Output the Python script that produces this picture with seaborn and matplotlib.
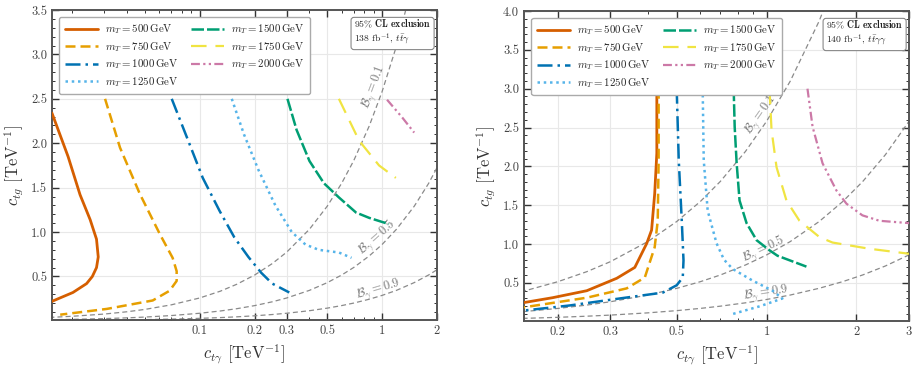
import matplotlib.pyplot as plt
import matplotlib.ticker as mticker
import numpy as np
import pandas as pd
import seaborn as sns

# top-partner masses and their styles
masses = [500, 750, 1000, 1250, 1500, 1750, 2000]
colors = ["#D55E00", "#E69F00", "#0072B2", "#56B4E9", "#009E73", "#F0E442", "#CC79A7"]
styles = ["-", (0, (4, 2)), (0, (6, 2, 1, 2)), (0, (1, 1.5)),
          (0, (5, 1.2)), (0, (7, 4)), (0, (4, 1.5, 1, 1.5, 1, 1.5))]
widths = [2.0, 1.8, 1.8, 1.8, 1.8, 1.6, 1.6]

# left panel: 138 fb^-1, tt+gamma  (c_tgamma, c_tg)
ttg_m500 = [(0.0155, 2.34), (0.0190, 1.85), (0.0221, 1.42), (0.0251, 1.14), (0.0272, 0.92),
            (0.0278, 0.72), (0.0272, 0.60), (0.0258, 0.50), (0.0240, 0.42), (0.0202, 0.32),
            (0.0155, 0.22)]
ttg_m750 = [(0.0303, 2.50), (0.0366, 1.95), (0.0470, 1.43), (0.0604, 0.98), (0.0711, 0.71),
            (0.0748, 0.56), (0.0748, 0.45), (0.0685, 0.34), (0.0553, 0.23), (0.0310, 0.135),
            (0.0172, 0.07)]
ttg_m1000 = [(0.0703, 2.50), (0.085, 2.07), (0.104, 1.61), (0.1285, 1.24), (0.155, 0.94),
             (0.185, 0.72), (0.218, 0.54), (0.25, 0.42), (0.31, 0.32)]
ttg_m1250 = [(0.150, 2.50), (0.175, 2.10), (0.21, 1.70), (0.26, 1.30), (0.32, 1.00),
             (0.38, 0.86), (0.45, 0.80), (0.58, 0.77), (0.68, 0.71)]
ttg_m1500 = [(0.303, 2.50), (0.34, 2.15), (0.40, 1.80), (0.48, 1.55), (0.58, 1.39),
             (0.72, 1.22), (0.85, 1.16), (1.09, 1.09)]
ttg_m1750 = [(0.58, 2.50), (0.748, 2.03), (0.963, 1.75), (1.19, 1.61)]
ttg_m2000 = [(1.065, 2.49), (1.29, 2.29), (1.50, 2.12)]

# right panel: 140 fb^-1, tt+gamma gamma
ttaa_m500 = [(0.429, 3.00), (0.429, 2.17), (0.422, 1.65), (0.412, 1.18), (0.397, 1.01),
             (0.362, 0.70), (0.315, 0.56), (0.250, 0.40), (0.192, 0.31), (0.150, 0.24)]
ttaa_m750 = [(0.435, 3.00), (0.435, 2.08), (0.432, 1.30), (0.422, 0.96), (0.391, 0.57),
             (0.340, 0.43), (0.250, 0.31), (0.150, 0.18)]
ttaa_m1000 = [(0.500, 3.00), (0.508, 2.08), (0.520, 1.30), (0.527, 0.79), (0.524, 0.57),
              (0.500, 0.47), (0.449, 0.375), (0.322, 0.30), (0.219, 0.21), (0.150, 0.14)]
ttaa_m1250 = [(0.611, 3.00), (0.616, 2.08), (0.635, 1.43), (0.680, 1.01), (0.72, 0.80),
              (0.77, 0.68), (0.898, 0.53), (1.047, 0.40), (1.13, 0.30), (0.95, 0.20),
              (0.77, 0.10)]
ttaa_m1500 = [(0.776, 3.00), (0.782, 2.51), (0.794, 2.04), (0.812, 1.56), (0.857, 1.27),
              (0.926, 1.05), (1.023, 0.92), (1.088, 0.85), (1.36, 0.71)]
ttaa_m1750 = [(1.023, 3.00), (1.039, 2.47), (1.080, 1.99), (1.166, 1.56), (1.289, 1.30),
              (1.504, 1.09), (1.663, 1.02), (2.21, 0.94), (2.94, 0.88), (3.0, 0.875)]
ttaa_m2000 = [(1.371, 3.00), (1.426, 2.51), (1.54, 2.04), (1.714, 1.69), (1.852, 1.52),
              (2.094, 1.37), (2.388, 1.30), (3.0, 1.27)]

# branching-ratio contours B_gamma = 0.1, 0.5, 0.9
b_x = [0.015, 0.02, 0.03, 0.04, 0.05, 0.07, 0.1, 0.13, 0.16, 0.2, 0.25, 0.3, 0.4, 0.5,
       0.6, 0.7, 0.85, 1.0, 1.2, 1.5, 1.8, 2.1, 2.5, 3.0]
b01_y = [0.039, 0.052, 0.077, 0.103, 0.129, 0.181, 0.258, 0.335, 0.413, 0.516, 0.645,
         0.774, 1.032, 1.29, 1.548, 1.806, 2.193, 2.58, 3.096, 3.87, 4.644, 5.418, 6.45, 7.74]
b05_y = [0.0129, 0.0172, 0.0258, 0.0344, 0.043, 0.0602, 0.086, 0.1118, 0.1376, 0.172,
         0.215, 0.258, 0.344, 0.43, 0.516, 0.602, 0.731, 0.86, 1.032, 1.29, 1.548, 1.806,
         2.15, 2.58]
b09_y = [0.0043, 0.0057, 0.0086, 0.0115, 0.0144, 0.0201, 0.0287, 0.0373, 0.0459, 0.0574,
         0.0718, 0.0861, 0.1148, 0.1435, 0.1722, 0.2009, 0.244, 0.287, 0.344, 0.431, 0.517,
         0.603, 0.718, 0.861]
b_values = ["0.1", "0.5", "0.9"]

left_curves = [ttg_m500, ttg_m750, ttg_m1000, ttg_m1250, ttg_m1500, ttg_m1750, ttg_m2000]
right_curves = [ttaa_m500, ttaa_m750, ttaa_m1000, ttaa_m1250, ttaa_m1500, ttaa_m1750, ttaa_m2000]

sns.set_theme(style="ticks")
plt.rcParams["font.family"] = ["cmr10", "DejaVu Serif"]
plt.rcParams["mathtext.fontset"] = "cm"
plt.rcParams["axes.formatter.use_mathtext"] = True

fig = plt.figure(figsize=(9.18, 3.68), dpi=100)
ax_l = fig.add_axes([0.0566, 0.1304, 0.4194, 0.8424])
ax_r = fig.add_axes([0.5708, 0.1277, 0.4194, 0.8424])


def line_angle(ax, xs, ys, x0):
    pts = ax.transData.transform(np.column_stack([xs, ys]))
    i = int(np.searchsorted(xs, x0))
    dx, dy = pts[i] - pts[i - 1]
    return np.degrees(np.arctan2(dy, dx))


def draw_panel(ax, curves, xlim, ylim, xmajor, lumi, label_pos):
    ax.set_xscale("log")
    ax.set_xlim(*xlim)
    ax.set_ylim(*ylim)

    # branching ratio contours
    for by in [b01_y, b05_y, b09_y]:
        bdf = pd.DataFrame({"x": b_x, "y": by})
        sns.lineplot(data=bdf, x="x", y="y", ax=ax, sort=False, estimator=None,
                     color="#8a8a8a", lw=0.9, linestyle=(0, (4, 2.5)), zorder=2)

    for m, pts, c, ls, lw in zip(masses, curves, colors, styles, widths):
        df = pd.DataFrame(pts, columns=["x", "y"])
        sns.lineplot(data=df, x="x", y="y", ax=ax, sort=False, estimator=None,
                     color=c, lw=lw, linestyle=ls, zorder=3,
                     label=rf"$m_T = {m}\,\mathrm{{GeV}}$")

    ax.xaxis.set_major_locator(mticker.FixedLocator(xmajor))
    ax.xaxis.set_major_formatter(mticker.FixedFormatter([f"{v:g}" for v in xmajor]))
    ax.xaxis.set_minor_locator(mticker.LogLocator(base=10, subs=np.arange(2, 10)))
    ax.xaxis.set_minor_formatter(mticker.NullFormatter())
    ax.yaxis.set_major_locator(mticker.MultipleLocator(0.5))
    ax.yaxis.set_major_formatter(mticker.FormatStrFormatter("%.1f"))
    ax.yaxis.set_minor_locator(mticker.MultipleLocator(0.1))

    ax.grid(True, which="major", color="#e8e8e8", lw=0.8, zorder=0)
    ax.tick_params(which="both", direction="in", top=True, right=True,
                   colors="#333333", labelcolor="#444444", labelsize=9)
    ax.tick_params(which="major", length=5, width=1.0)
    ax.tick_params(which="minor", length=2.5, width=0.7)
    for s in ax.spines.values():
        s.set_color("#555555")
        s.set_linewidth(1.4)

    ax.set_xlabel(r"$c_{t\gamma}$ [TeV$^{-1}$]", fontsize=12, color="#333333")
    ax.set_ylabel(r"$c_{tg}$ [TeV$^{-1}$]", fontsize=12, color="#333333")

    leg = ax.legend(loc="upper left", ncol=2, fontsize=7.8, handlelength=3.05,
                    handletextpad=0.65, columnspacing=1.2, labelspacing=0.34,
                    borderpad=0.5, fancybox=True, framealpha=1, edgecolor="#aaaaaa",
                    bbox_to_anchor=(0.005, 0.995))
    leg.set_zorder(5)

    ax.text(0.985, 0.975, r"$\mathbf{95\%\ CL\ exclusion}$" + "\n" + lumi,
            transform=ax.transAxes, ha="right", va="top", fontsize=7,
            multialignment="left", color="#222222", zorder=6, linespacing=1.15,
            bbox=dict(boxstyle="round,pad=0.3", fc="white", ec="#888888", lw=0.8))

    for by, bv, (lx, ly) in zip([b01_y, b05_y, b09_y], b_values, label_pos):
        ang = line_angle(ax, b_x, by, lx)
        ax.text(lx, ly, rf"$\mathcal{{B}}_\gamma = {bv}$", fontsize=9, color="#777777",
                rotation=ang, rotation_mode="anchor", ha="center", va="center", zorder=2)


draw_panel(ax_l, left_curves, (0.0155, 2.0), (0.01, 3.5), [0.1, 0.2, 0.3, 0.5, 1, 2],
           r"138 fb$^{-1}$, $t\bar{t}\gamma$",
           [(0.90, 2.63), (0.94, 0.94), (0.96, 0.35)])
draw_panel(ax_r, right_curves, (0.154, 3.0), (0.01, 4.0), [0.2, 0.3, 0.5, 1, 2, 3],
           r"140 fb$^{-1}$, $t\bar{t}\gamma\gamma$",
           [(0.96, 2.67), (0.977, 0.94), (1.0, 0.37)])

fig.savefig("out.png", dpi=100)
